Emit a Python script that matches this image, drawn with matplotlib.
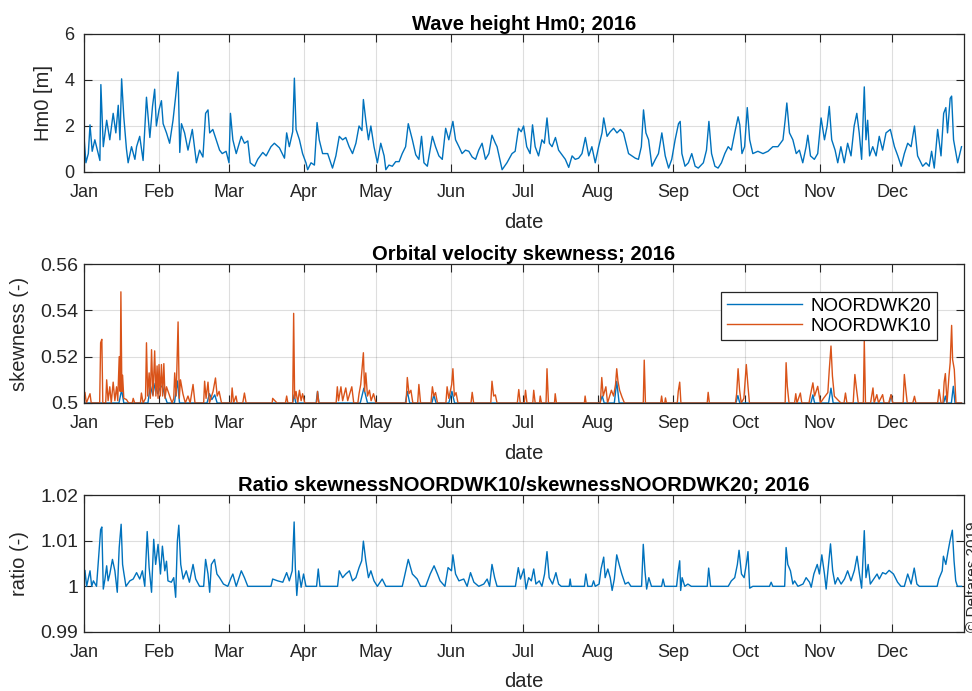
"""
Golfhoogte en scheefheid orbitaalsnelheid bij Noordwijk, 2016.

Drie panelen onder elkaar: Hm0, de scheefheid op twee locaties en de
verhouding tussen beide. Tijd als dagnummer in 2016 (0 = 1 januari).
"""
import numpy as np
import matplotlib
matplotlib.use("Agg")
import matplotlib.pyplot as plt

plt.rcParams["font.family"] = ["Liberation Sans", "DejaVu Sans"]

MONTHS = ["Jan", "Feb", "Mar", "Apr", "May", "Jun",
          "Jul", "Aug", "Sep", "Oct", "Nov", "Dec"]
MONTH_START = [0, 31, 60, 91, 121, 152, 182, 213, 244, 274, 305, 335]  # 2016 = schrikkeljaar

# --- golfhoogte Hm0 [m] ---
hm0_day = [
    0.0, 0.8, 1.8, 2.5, 3.4, 4.5, 6.6, 7.0, 8.0, 9.4,
    10.7, 12.1, 13.2, 14.2, 14.9, 15.6, 16.5, 17.6, 18.3, 19.7,
    21.1, 21.8, 23.1, 24.5, 25.9, 27.3, 28.4, 29.3, 30.0, 31.1,
    32.1, 32.8, 34.2, 35.5, 36.9, 38.0, 39.0, 39.7, 40.4, 41.7,
    43.1, 44.9, 46.6, 47.9, 49.3, 50.4, 51.4, 52.1, 53.4, 54.8,
    56.2, 57.3, 58.9, 60.1, 60.7, 61.7, 63.1, 65.2, 66.5, 67.9,
    68.9, 70.7, 72.0, 74.1, 75.5, 77.5, 78.9, 81.0, 83.1, 84.0,
    85.1, 86.5, 87.2, 87.9, 89.3, 90.6, 92.0, 92.7, 94.1, 95.5,
    96.6, 97.5, 98.9, 101.0, 103.0, 104.4, 105.8, 107.2, 108.5, 109.9,
    111.3, 112.7, 114.0, 115.2, 115.8, 116.8, 117.9, 118.9, 120.2, 121.6,
    123.0, 124.4, 125.1, 126.4, 127.8, 129.2, 130.6, 131.9, 133.3, 134.4,
    136.1, 137.5, 138.8, 139.9, 140.9, 142.3, 144.4, 145.7, 147.1, 148.5,
    149.9, 151.2, 152.9, 154.0, 155.4, 156.7, 158.1, 159.5, 160.9, 162.3,
    163.6, 165.0, 166.4, 167.8, 169.1, 170.5, 171.2, 173.3, 175.3, 177.4,
    178.7, 180.1, 181.2, 182.2, 183.5, 184.9, 185.9, 187.0, 188.4, 189.8,
    190.8, 191.9, 192.9, 194.0, 195.4, 196.7, 198.1, 199.5, 200.9, 202.3,
    203.6, 205.0, 206.4, 207.8, 209.2, 210.5, 211.9, 213.3, 214.7, 215.4,
    216.8, 218.1, 219.5, 220.9, 222.3, 223.6, 224.3, 225.7, 227.1, 228.5,
    229.8, 231.0, 231.9, 232.9, 234.0, 235.4, 236.8, 238.1, 239.5, 240.9,
    242.3, 243.6, 245.0, 246.4, 247.1, 247.8, 249.1, 250.5, 251.9, 253.3,
    254.6, 256.7, 258.0, 259.0, 260.1, 261.5, 262.8, 264.2, 265.6, 267.0,
    268.3, 269.7, 271.1, 271.8, 272.7, 273.8, 274.9, 275.9, 277.2, 279.3,
    281.4, 283.5, 285.5, 287.6, 289.7, 290.6, 291.3, 292.4, 293.8, 295.2,
    296.5, 297.9, 299.3, 300.0, 301.1, 302.7, 304.1, 305.5, 306.9, 308.0,
    308.9, 309.9, 311.3, 312.4, 313.7, 315.1, 316.5, 317.9, 319.2, 320.3,
    321.3, 322.3, 323.4, 324.1, 324.8, 325.6, 326.9, 328.3, 329.6, 331.0,
    332.4, 334.2, 335.9, 337.3, 338.7, 340.0, 341.4, 342.8, 344.2, 345.5,
    347.6, 349.0, 350.3, 351.3, 352.4, 353.8, 355.2, 356.3, 357.2, 357.9,
    359.0, 359.6, 360.4, 362.1, 363.7,
]
hm0_m = [
    1.55, 0.4, 0.8, 2.05, 0.9, 1.4, 0.5, 3.8, 1.1, 2.25,
    1.4, 2.55, 1.7, 2.9, 1.4, 4.05, 2.4, 1.0, 0.4, 1.1,
    0.55, 1.1, 1.55, 0.5, 3.25, 1.5, 2.85, 3.6, 2.0, 2.7,
    3.1, 2.1, 1.7, 1.25, 2.25, 3.3, 4.35, 0.85, 2.1, 1.7,
    0.95, 1.85, 0.4, 0.95, 0.65, 2.55, 2.7, 1.7, 1.85, 1.4,
    0.95, 0.8, 0.9, 0.4, 2.55, 1.4, 0.8, 1.55, 1.25, 1.35,
    0.4, 0.25, 0.55, 0.85, 0.7, 1.1, 1.25, 1.05, 0.6, 1.7,
    1.1, 1.75, 4.08, 1.85, 1.4, 0.8, 0.4, 0.1, 0.4, 0.3,
    2.15, 1.4, 0.8, 0.8, 0.17, 0.7, 1.55, 1.4, 1.5, 1.1,
    0.8, 1.25, 2.0, 1.8, 3.15, 2.25, 1.4, 2.0, 1.1, 0.4,
    1.25, 0.7, 0.1, 0.3, 0.25, 0.45, 0.45, 0.8, 1.1, 2.1,
    1.4, 0.75, 0.55, 1.55, 0.4, 0.25, 1.55, 1.1, 0.7, 0.55,
    1.9, 1.4, 2.2, 1.4, 1.1, 0.8, 0.95, 0.9, 0.65, 0.55,
    0.95, 1.25, 0.55, 0.8, 1.6, 1.25, 1.1, 0.1, 0.4, 0.8,
    0.9, 1.9, 1.75, 2.0, 1.1, 0.8, 2.05, 1.1, 0.7, 1.4,
    1.25, 2.35, 1.25, 1.1, 1.5, 0.95, 0.75, 0.55, 0.2, 0.7,
    0.55, 0.6, 0.8, 1.5, 0.7, 1.1, 0.4, 1.1, 1.7, 2.35,
    1.55, 1.75, 1.9, 1.7, 1.85, 1.7, 1.4, 0.8, 0.7, 0.6,
    0.55, 1.1, 2.7, 1.7, 1.4, 0.25, 0.55, 0.8, 1.7, 0.7,
    0.17, 0.55, 1.4, 2.1, 2.2, 0.8, 0.25, 0.4, 0.8, 0.25,
    0.17, 0.4, 0.95, 2.2, 0.8, 0.25, 0.17, 0.4, 0.8, 1.1,
    0.95, 1.7, 2.4, 2.05, 0.8, 1.1, 2.8, 1.4, 0.8, 0.9,
    0.8, 0.9, 1.1, 1.1, 1.4, 2.25, 3.0, 1.7, 1.4, 0.8,
    0.95, 0.4, 1.1, 1.6, 0.7, 0.55, 0.8, 2.35, 1.4, 2.0,
    2.85, 1.4, 0.95, 0.4, 1.1, 0.4, 1.25, 0.7, 2.0, 2.55,
    1.7, 0.55, 3.7, 1.4, 2.25, 0.7, 1.1, 0.7, 1.55, 0.95,
    1.7, 1.85, 1.1, 0.7, 0.25, 0.8, 1.25, 1.1, 2.0, 0.7,
    0.25, 0.4, 0.25, 0.9, 0.17, 1.85, 0.7, 2.55, 2.8, 1.7,
    3.2, 3.3, 1.4, 0.4, 1.1,
]

# --- scheefheid NOORDWK20 (dag, scheefheid) ---
skew20 = [
    (0.0, 0.5), (14.5, 0.5), (15.6, 0.5057), (16.5, 0.5), (26.5, 0.5),
    (27.5, 0.5075), (28.5, 0.5035), (29.5, 0.5085), (30.5, 0.504),
    (31.5, 0.5065), (32.5, 0.5075), (33.5, 0.503), (34.5, 0.5),
    (37.5, 0.5), (38.7, 0.5095), (39.6, 0.5), (51.0, 0.5), (52.0, 0.504),
    (53.0, 0.5015), (54.2, 0.5035), (55.2, 0.5), (86.5, 0.5), (87.1, 0.5035),
    (87.8, 0.5), (96.2, 0.5), (96.8, 0.505), (97.4, 0.5), (114.5, 0.5),
    (116.0, 0.5064), (117.5, 0.5), (133.2, 0.5), (134.0, 0.505), (135.0, 0.5),
    (144.2, 0.5), (145.0, 0.5035), (145.9, 0.5), (151.2, 0.5), (152.5, 0.505),
    (153.6, 0.5), (213.8, 0.5), (214.8, 0.503), (215.6, 0.5), (219.8, 0.5),
    (220.8, 0.5093), (221.8, 0.5), (270.2, 0.5), (271.0, 0.5032), (271.8, 0.5),
    (301.3, 0.5), (302.1, 0.5035), (302.8, 0.5), (308.6, 0.5), (309.6, 0.5064),
    (310.5, 0.5), (333.8, 0.5), (334.5, 0.5035), (335.2, 0.5), (356.3, 0.5),
    (357.0, 0.503), (357.6, 0.5), (359.5, 0.5), (360.3, 0.5072), (361.0, 0.5),
    (363.7, 0.5),
]

# --- scheefheid NOORDWK10 (dag, scheefheid) ---
skew10 = [
    (0.0, 0.5), (0.4, 0.5046), (1.0, 0.5), (2.5, 0.504), (3.0, 0.5),
    (6.5, 0.5), (6.9, 0.526), (7.4, 0.5275), (7.8, 0.5), (9.0, 0.5),
    (9.4, 0.510), (10.0, 0.501), (10.7, 0.507), (11.3, 0.5), (12.1, 0.509),
    (12.8, 0.501), (13.5, 0.507), (14.0, 0.501), (14.6, 0.520), (15.0, 0.505),
    (15.3, 0.548), (15.7, 0.505), (16.0, 0.512), (16.5, 0.502), (17.6, 0.5015),
    (18.5, 0.5), (20.0, 0.5), (20.4, 0.502), (21.0, 0.5), (23.4, 0.5),
    (23.8, 0.5043), (24.5, 0.5), (25.5, 0.502), (25.9, 0.526), (26.4, 0.503),
    (27.0, 0.513), (27.5, 0.502), (28.0, 0.523), (28.6, 0.503), (29.3, 0.5225),
    (29.8, 0.503), (30.3, 0.516), (30.7, 0.502), (31.1, 0.5166), (31.6, 0.503),
    (32.1, 0.5166), (32.6, 0.503), (33.1, 0.517), (33.6, 0.502), (34.2, 0.507),
    (35.5, 0.503), (36.5, 0.5), (37.2, 0.502), (37.6, 0.513), (38.2, 0.503),
    (39.0, 0.535), (39.5, 0.502), (40.0, 0.510), (41.0, 0.504), (42.0, 0.5),
    (43.1, 0.503), (44.0, 0.5), (45.2, 0.508), (46.0, 0.5), (49.6, 0.5),
    (50.0, 0.5094), (50.6, 0.502), (51.4, 0.509), (52.0, 0.5), (53.5, 0.505),
    (54.5, 0.5108), (55.2, 0.503), (56.0, 0.505), (57.0, 0.5), (61.0, 0.5),
    (61.4, 0.5065), (62.0, 0.5), (63.0, 0.503), (63.5, 0.5), (65.8, 0.5),
    (66.5, 0.5043), (67.2, 0.5), (78.0, 0.5), (78.2, 0.502), (80.0, 0.5),
    (83.5, 0.5), (84.0, 0.503), (84.5, 0.5), (86.5, 0.5), (86.9, 0.5387),
    (87.3, 0.502), (87.9, 0.505), (88.6, 0.5), (89.3, 0.5055), (90.0, 0.501),
    (90.6, 0.504), (91.5, 0.5), (96.4, 0.5), (96.8, 0.505), (97.3, 0.5),
    (104.5, 0.5), (105.0, 0.507), (105.5, 0.501), (106.5, 0.507), (107.2, 0.501),
    (108.5, 0.5065), (109.3, 0.501), (111.0, 0.507), (111.8, 0.5), (113.5, 0.5),
    (114.0, 0.504), (114.7, 0.508), (115.8, 0.5217), (116.3, 0.505), (116.8, 0.513),
    (117.5, 0.503), (118.3, 0.5055), (119.0, 0.501), (120.0, 0.504), (121.0, 0.5),
    (133.5, 0.5), (134.0, 0.511), (134.7, 0.504), (135.5, 0.5055), (136.3, 0.5),
    (138.3, 0.5), (138.8, 0.508), (139.5, 0.5), (143.8, 0.5), (144.4, 0.507),
    (145.0, 0.503), (145.7, 0.5045), (146.5, 0.5), (150.0, 0.5), (150.5, 0.507),
    (151.2, 0.502), (152.4, 0.508), (152.9, 0.5148), (153.5, 0.503), (154.2, 0.5045),
    (155.0, 0.5), (160.4, 0.5), (160.9, 0.5046), (161.5, 0.5), (168.6, 0.5),
    (169.1, 0.5094), (169.8, 0.503), (170.5, 0.5035), (171.2, 0.5), (179.6, 0.5),
    (180.2, 0.5058), (180.8, 0.5), (182.5, 0.5), (183.0, 0.5055), (183.6, 0.5),
    (186.0, 0.5), (186.4, 0.5055), (187.0, 0.5), (188.8, 0.5), (189.1, 0.503),
    (189.6, 0.5), (191.5, 0.5), (191.9, 0.5148), (192.5, 0.5), (195.0, 0.5),
    (195.3, 0.504), (195.8, 0.5), (207.4, 0.5), (207.7, 0.503), (208.1, 0.5),
    (214.0, 0.5), (214.6, 0.511), (215.2, 0.503), (216.3, 0.507), (217.0, 0.5),
    (218.6, 0.5055), (219.5, 0.503), (220.3, 0.508), (220.8, 0.5148), (221.3, 0.5095),
    (222.0, 0.5055), (223.0, 0.5025), (224.0, 0.5), (231.8, 0.5), (232.2, 0.5185),
    (232.7, 0.5), (239.0, 0.5), (239.4, 0.503), (239.8, 0.5), (240.7, 0.5),
    (241.0, 0.5022), (241.4, 0.5), (245.9, 0.5), (246.3, 0.505), (246.9, 0.509),
    (247.4, 0.5), (258.3, 0.5), (258.7, 0.5046), (259.2, 0.5), (270.0, 0.5),
    (270.5, 0.504), (271.1, 0.5148), (271.7, 0.5058), (272.4, 0.5), (273.5, 0.502),
    (274.5, 0.5166), (275.2, 0.5072), (275.8, 0.5), (290.6, 0.5), (291.0, 0.5174),
    (291.5, 0.5072), (292.2, 0.5), (294.5, 0.5), (295.0, 0.504), (295.5, 0.5),
    (296.9, 0.5043), (297.5, 0.5), (300.5, 0.5), (301.0, 0.503), (302.1, 0.5087),
    (302.8, 0.503), (304.1, 0.5072), (305.2, 0.5), (306.5, 0.502), (308.3, 0.5045),
    (308.9, 0.5145), (309.6, 0.5246), (310.2, 0.5116), (311.0, 0.5029), (313.7, 0.5),
    (315.0, 0.5), (315.6, 0.5043), (316.2, 0.5), (318.8, 0.5), (319.5, 0.5123),
    (320.2, 0.5058), (320.9, 0.5), (323.0, 0.5), (323.4, 0.527), (323.9, 0.5),
    (326.0, 0.5), (327.0, 0.5065), (327.5, 0.5), (328.6, 0.5036), (329.3, 0.5),
    (331.0, 0.5036), (331.6, 0.5), (333.5, 0.5), (334.5, 0.5036), (335.2, 0.5),
    (339.5, 0.5), (340.0, 0.5123), (340.6, 0.5058), (341.2, 0.5), (343.5, 0.5),
    (344.2, 0.5029), (344.8, 0.5), (353.8, 0.5), (354.4, 0.5058), (355.2, 0.5),
    (356.0, 0.5), (356.5, 0.509), (357.0, 0.5127), (357.7, 0.5), (358.5, 0.5116),
    (359.0, 0.5174), (359.6, 0.5335), (360.0, 0.5188), (360.7, 0.5145), (361.4, 0.5),
    (363.7, 0.5),
]

# --- verhouding skewNOORDWK10 / skewNOORDWK20 (dag, ratio) ---
ratio = [
    (0.0, 1.0), (0.4, 1.0035), (1.1, 1.0), (2.5, 1.0034), (3.2, 1.0),
    (3.9, 1.0012), (5.2, 1.0), (6.9, 1.0124), (7.4, 1.0130), (8.0, 0.9994),
    (8.7, 1.0016), (9.4, 1.0045), (10.0, 1.0012), (10.7, 1.0027), (11.8, 1.0059),
    (12.8, 1.0034), (13.8, 0.9987), (14.6, 1.0085), (15.4, 1.0136), (16.0, 1.0048),
    (16.5, 1.0030), (17.4, 1.0), (19.0, 1.0012), (20.4, 1.0016), (21.8, 1.0030),
    (23.1, 1.0016), (24.2, 1.0034), (25.2, 1.0), (26.2, 1.0120), (27.0, 1.0041),
    (28.0, 0.9987), (28.9, 1.0103), (29.7, 1.0048), (30.7, 1.0092), (31.7, 1.0027),
    (32.5, 1.0088), (33.5, 1.0034), (34.2, 1.0055), (34.8, 1.0012), (36.2, 1.0009),
    (37.2, 1.0019), (38.0, 0.9976), (38.7, 1.0099), (39.3, 1.0134), (40.1, 1.0048),
    (41.1, 1.0016), (42.4, 1.0034), (43.7, 1.0009), (45.2, 1.0048), (46.3, 1.0016),
    (47.9, 1.0), (49.6, 1.0), (50.4, 1.0059), (51.4, 1.0027), (52.1, 0.9987),
    (52.8, 1.0048), (54.1, 1.0059), (55.1, 1.0027), (56.2, 1.0019), (57.8, 1.0005),
    (59.6, 1.0), (61.0, 1.0019), (61.7, 1.0027), (63.1, 1.0), (65.2, 1.0034),
    (66.5, 1.0019), (67.9, 1.0), (77.5, 1.0), (78.2, 1.0016), (80.3, 1.0012),
    (82.4, 1.0009), (84.0, 1.0030), (85.1, 1.0012), (86.3, 1.0034), (87.1, 1.0141),
    (87.6, 1.0041), (88.2, 0.9980), (89.0, 1.0034), (90.0, 0.9998), (91.0, 1.0027),
    (92.0, 1.0), (96.4, 1.0), (97.1, 1.0038), (97.8, 1.0), (105.1, 1.0),
    (105.8, 1.0034), (107.2, 1.0019), (108.5, 1.0027), (110.0, 1.0034), (111.3, 1.0012),
    (112.7, 1.0019), (114.0, 1.0041), (115.1, 1.0056), (115.8, 1.0099), (116.8, 1.0056),
    (117.9, 1.0019), (118.9, 1.0034), (120.2, 1.0012), (121.6, 1.0), (123.6, 1.0016),
    (125.1, 1.0), (131.9, 1.0), (132.6, 1.0016), (134.4, 1.0059), (136.1, 1.0027),
    (138.1, 1.0016), (139.5, 1.0), (141.6, 1.0), (143.5, 1.0027), (145.1, 1.0045),
    (146.5, 1.0027), (147.6, 1.0012), (149.6, 1.0), (150.9, 1.0041), (152.3, 1.0034),
    (152.9, 1.0069), (154.0, 1.0027), (155.4, 1.0012), (157.4, 1.0016), (158.8, 1.0),
    (160.2, 1.0030), (161.6, 1.0009), (163.6, 1.0), (165.7, 1.0005), (167.1, 1.0016),
    (168.1, 1.0), (169.1, 1.0048), (170.2, 1.0019), (171.2, 1.0), (178.8, 1.0),
    (180.0, 1.0041), (180.9, 1.0016), (182.3, 1.0038), (183.2, 0.9994), (184.3, 1.0019),
    (185.4, 1.0012), (186.4, 1.0038), (187.3, 1.0005), (188.7, 1.0012), (189.8, 1.0),
    (190.9, 1.0027), (191.9, 1.0076), (192.8, 1.0019), (194.2, 1.0005), (195.6, 1.0030),
    (196.7, 1.0005), (197.8, 1.0), (201.1, 1.0), (201.5, 1.0016), (201.9, 1.0),
    (207.4, 1.0), (208.0, 1.0027), (208.8, 1.0), (210.5, 1.0), (211.2, 1.0012),
    (211.9, 1.0), (213.5, 1.0005), (214.3, 1.0038), (215.4, 1.0064), (216.0, 1.0019),
    (217.1, 1.0038), (218.1, 1.0019), (218.9, 0.9991), (219.8, 1.0016), (220.8, 1.0069),
    (221.8, 1.0048), (222.9, 1.0027), (224.3, 1.0005), (225.6, 1.0009), (226.7, 1.0),
    (231.1, 1.0), (231.8, 1.0092), (232.5, 1.0034), (233.2, 0.9994), (234.1, 1.0019),
    (235.2, 1.0), (239.4, 1.0), (240.0, 1.0016), (240.7, 1.0), (245.6, 1.0),
    (246.3, 1.0034), (246.9, 1.0056), (247.3, 0.9991), (247.9, 1.0019), (249.0, 1.0),
    (250.3, 1.0005), (251.7, 1.0), (258.3, 1.0), (258.9, 1.0040), (259.7, 1.0),
    (267.0, 1.0), (268.3, 1.0012), (269.7, 1.0019), (270.8, 1.0048), (271.5, 1.0079),
    (272.5, 1.0027), (273.6, 1.0019), (274.5, 1.0048), (275.2, 1.0076), (275.9, 0.9996),
    (277.2, 1.0), (284.1, 1.0), (284.8, 1.0009), (285.5, 1.0), (290.4, 1.0),
    (291.0, 1.0085), (291.7, 1.0048), (292.8, 1.0034), (293.8, 1.0005), (294.5, 1.0012),
    (295.9, 1.0), (298.0, 1.0005), (299.3, 1.0019), (300.7, 1.0009), (301.4, 0.9998),
    (302.5, 1.0027), (303.9, 1.0048), (304.8, 1.0027), (305.8, 1.0069), (306.9, 1.0027),
    (307.6, 0.9994), (308.6, 1.0048), (309.4, 1.0093), (310.3, 1.0034), (311.3, 1.0005),
    (312.4, 1.0019), (313.8, 1.0005), (315.2, 1.0016), (316.5, 1.0034), (317.9, 1.0012),
    (319.3, 1.0035), (320.4, 1.0066), (321.4, 1.0027), (322.3, 0.9996), (323.4, 1.0122),
    (324.1, 1.0019), (325.0, 1.0048), (325.9, 1.0005), (327.3, 1.0016), (328.7, 1.0027),
    (329.6, 1.0016), (331.0, 1.0030), (332.3, 1.0027), (333.7, 1.0035), (335.5, 1.0027),
    (337.2, 1.0009), (338.6, 1.0), (340.0, 1.0), (341.4, 1.0027), (342.8, 1.0005),
    (344.1, 1.0040), (345.2, 1.0005), (346.2, 1.0), (353.6, 1.0), (354.3, 1.0016),
    (355.7, 1.0034), (356.2, 1.0066), (357.2, 1.0048), (358.1, 1.0076), (358.9, 1.0099),
    (359.9, 1.0123), (360.6, 1.0056), (361.3, 1.0012), (362.0, 1.0), (363.7, 1.0),
]

BLUE = "#0072BD"
ORANGE = "#D95319"
AXC = "#262626"


def opmaak(ax, ylim, yticks, ylabels, ylabel, ylabel_x, ysize=13, ypad=7):
    ax.set_xlim(0, 364.7)
    ax.set_ylim(*ylim)
    ax.set_xticks(MONTH_START)
    ax.set_xticklabels(MONTHS)
    ax.set_yticks(yticks)
    ax.set_yticklabels(ylabels)
    ax.set_axisbelow(True)
    ax.grid(True, color=AXC, alpha=0.15, lw=0.8)
    ax.tick_params(direction="in", top=True, right=True, length=6, width=0.8,
                   colors=AXC, labelsize=13)
    ax.tick_params(axis="x", pad=9)
    ax.tick_params(axis="y", pad=ypad, labelsize=ysize)
    for sp in ax.spines.values():
        sp.set_color(AXC)
        sp.set_linewidth(0.9)
    ax.set_xlabel("date", fontsize=14.5, color=AXC)
    ax.xaxis.set_label_coords(0.5, -0.295)
    ax.set_ylabel(ylabel, fontsize=14.5, color=AXC)
    ax.yaxis.set_label_coords(ylabel_x, 0.5)


fig = plt.figure(figsize=(9.72, 6.91), dpi=100)
ax1 = fig.add_axes([0.0864, 0.7511, 0.9053, 0.1997])
ax2 = fig.add_axes([0.0864, 0.4168, 0.9053, 0.2011])
ax3 = fig.add_axes([0.0864, 0.0854, 0.9053, 0.1982])

# golfhoogte
ax1.plot(hm0_day, hm0_m, color=BLUE, lw=1.0)
opmaak(ax1, (0, 6), [0, 2, 4, 6], ["0", "2", "4", "6"], "Hm0 [m]", -0.035)
ax1.set_title("Wave height Hm0; 2016", fontsize=14.5, fontweight="bold", pad=3)

# scheefheid
d20, s20 = np.array(skew20).T
d10, s10 = np.array(skew10).T
ax2.plot(d20, s20, color=BLUE, lw=1.0, label="NOORDWK20")
ax2.plot(d10, s10, color=ORANGE, lw=1.0, label="NOORDWK10")
opmaak(ax2, (0.5, 0.56), [0.5, 0.52, 0.54, 0.56], ["0.5", "0.52", "0.54", "0.56"],
       "skewness (-)", -0.062, ysize=14, ypad=4)
ax2.set_title("Orbital velocity skewness; 2016", fontsize=14.5, fontweight="bold", pad=3)
leg = ax2.legend(loc="upper right", bbox_to_anchor=(0.969, 0.799), borderaxespad=0,
                 fontsize=13.5, fancybox=False, edgecolor=AXC, framealpha=1,
                 handlelength=4.0, handletextpad=0.45, borderpad=0.3, labelspacing=0.15)
leg.get_frame().set_linewidth(0.9)

# verhouding
dr, rr = np.array(ratio).T
ax3.plot(dr, rr, color=BLUE, lw=1.0)
opmaak(ax3, (0.99, 1.02), [0.99, 1.0, 1.01, 1.02], ["0.99", "1", "1.01", "1.02"],
       "ratio (-)", -0.062, ysize=14, ypad=4)
ax3.set_title("Ratio skewnessNOORDWK10/skewnessNOORDWK20; 2016",
              fontsize=14.5, fontweight="bold", pad=3)

fig.text(966 / 972, 59 / 691, "\u00a9 Deltares 2019", rotation=90,
         ha="left", va="bottom", fontsize=11, color=AXC)

fig.savefig("out.png", dpi=100)
